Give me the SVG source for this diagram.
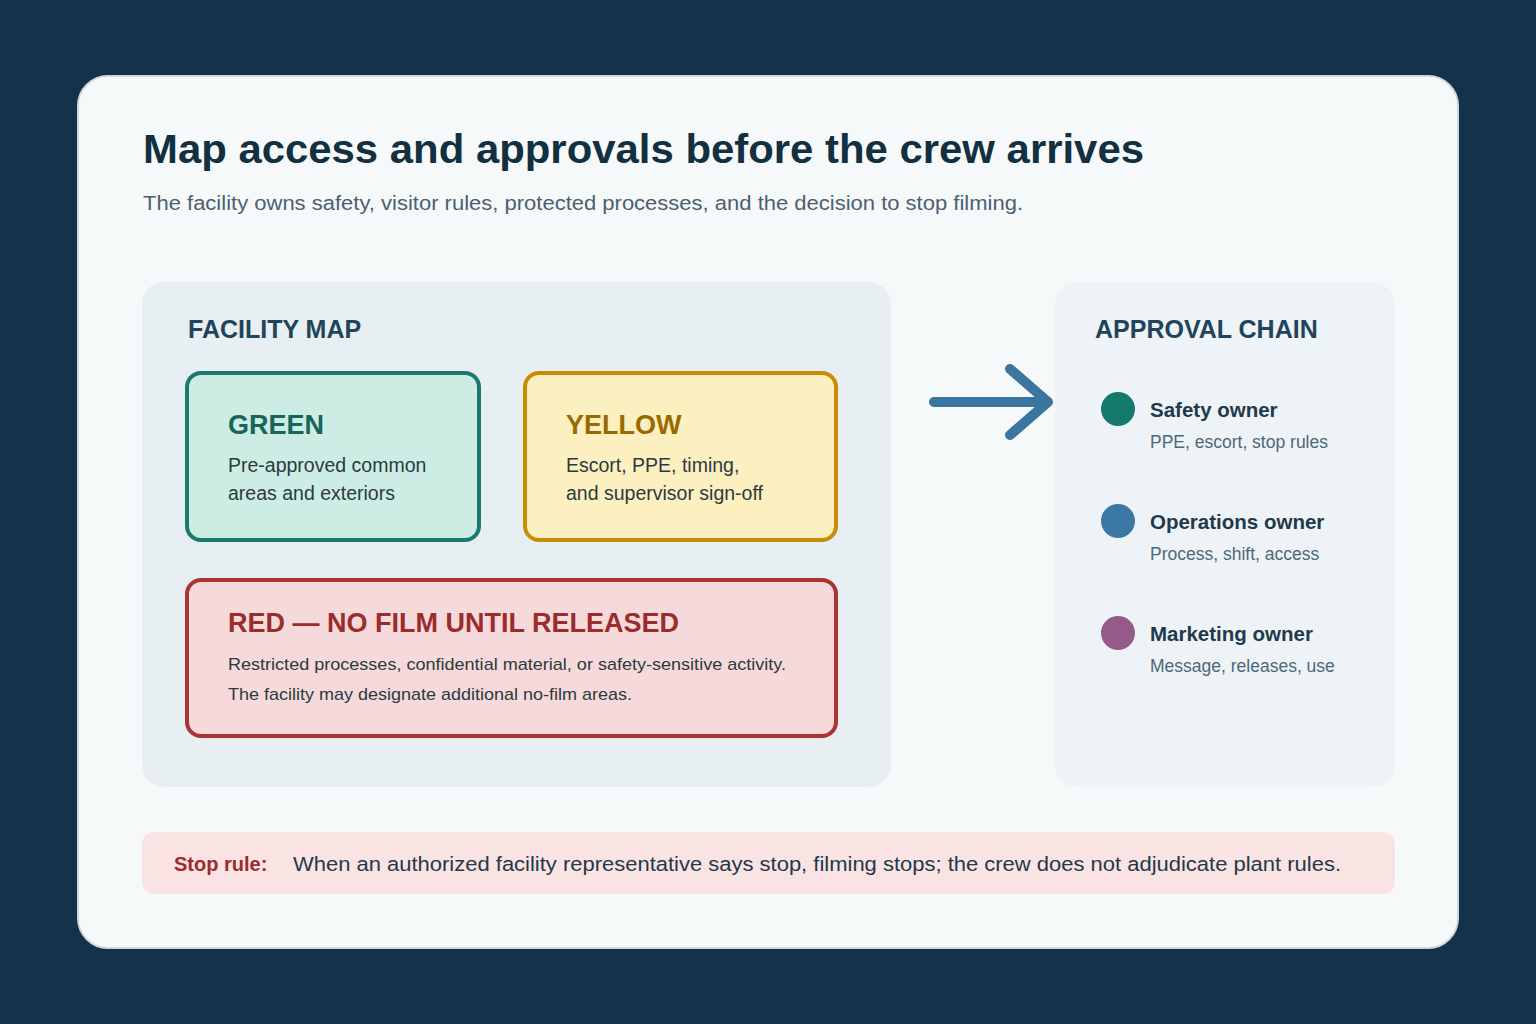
<svg xmlns="http://www.w3.org/2000/svg" width="1536" height="1024" viewBox="0 0 1536 1024">
<style>
text{font-family:"Liberation Sans",Arial,sans-serif}
.h{font-weight:bold;font-size:25px;fill:#22445a}
.bt{font-weight:bold;font-size:27px}
.bd{font-size:19.5px;fill:#2c3a40}
.on{font-weight:bold;font-size:20.5px;fill:#1f3a4c}
.os{font-size:17.5px;fill:#4e6878}
</style>
<rect width="1536" height="1024" fill="#143249"/>
<rect x="78" y="76" width="1380" height="872" rx="30" fill="#f6f9fa" stroke="#d0dbe0" stroke-width="2"/>
<text x="143" y="163" font-size="41" font-weight="bold" fill="#12303f" textLength="1001" lengthAdjust="spacingAndGlyphs">Map access and approvals before the crew arrives</text>
<text x="143" y="210" font-size="20.5" fill="#4a6070" textLength="880" lengthAdjust="spacingAndGlyphs">The facility owns safety, visitor rules, protected processes, and the decision to stop filming.</text>
<g id="facility-map">
<rect x="142" y="282" width="749" height="505" rx="22" fill="#e8eff2"/>
<text x="188" y="338" class="h">FACILITY MAP</text>
</g>
<g id="green">
<rect x="187" y="373" width="292" height="167" rx="14" fill="#cdece4" stroke="#1a7a6e" stroke-width="4"/>
<text x="228" y="434" class="bt" fill="#17665a">GREEN</text>
<text x="228" y="472" class="bd">Pre-approved common</text>
<text x="228" y="500" class="bd">areas and exteriors</text>
</g>
<g id="yellow">
<rect x="525" y="373" width="311" height="167" rx="14" fill="#fdf0c0" stroke="#c98d05" stroke-width="4"/>
<text x="566" y="434" class="bt" fill="#9a6a00">YELLOW</text>
<text x="566" y="472" class="bd">Escort, PPE, timing,</text>
<text x="566" y="500" class="bd">and supervisor sign-off</text>
</g>
<g id="red">
<rect x="187" y="580" width="649" height="156" rx="14" fill="#f6d9da" stroke="#a83434" stroke-width="4"/>
<text x="228" y="632" class="bt" fill="#9b2c2c">RED — NO FILM UNTIL RELEASED</text>
<text x="228" y="670" font-size="17" fill="#2c3a40" textLength="558" lengthAdjust="spacingAndGlyphs">Restricted processes, confidential material, or safety-sensitive activity.</text>
<text x="228" y="700" font-size="17" fill="#2c3a40" textLength="404" lengthAdjust="spacingAndGlyphs">The facility may designate additional no-film areas.</text>
</g>
<g id="connectors">
<path d="M934 402H1046M1010 369L1048 402L1010 435" fill="none" stroke="#3a76a0" stroke-width="10" stroke-linecap="round" stroke-linejoin="round"/>
</g>
<g id="approval-chain">
<rect x="1055" y="282" width="340" height="505" rx="22" fill="#edf3f6"/>
<text x="1095" y="338" class="h">APPROVAL CHAIN</text>
<circle cx="1118" cy="409" r="17" fill="#157a6c"/>
<text x="1150" y="417" class="on">Safety owner</text>
<text x="1150" y="448" class="os">PPE, escort, stop rules</text>
<circle cx="1118" cy="521" r="17" fill="#3b78a6"/>
<text x="1150" y="529" class="on">Operations owner</text>
<text x="1150" y="560" class="os">Process, shift, access</text>
<circle cx="1118" cy="633" r="17" fill="#955a88"/>
<text x="1150" y="641" class="on">Marketing owner</text>
<text x="1150" y="672" class="os">Message, releases, use</text>
</g>
<g id="stop-rule">
<rect x="142" y="832" width="1253" height="62" rx="12" fill="#fae3e3"/>
<text x="174" y="871" font-size="20" font-weight="bold" fill="#9b2c2c">Stop rule:</text>
<text x="293" y="871" font-size="20.5" fill="#23394a" textLength="1048" lengthAdjust="spacingAndGlyphs">When an authorized facility representative says stop, filming stops; the crew does not adjudicate plant rules.</text>
</g>
</svg>
